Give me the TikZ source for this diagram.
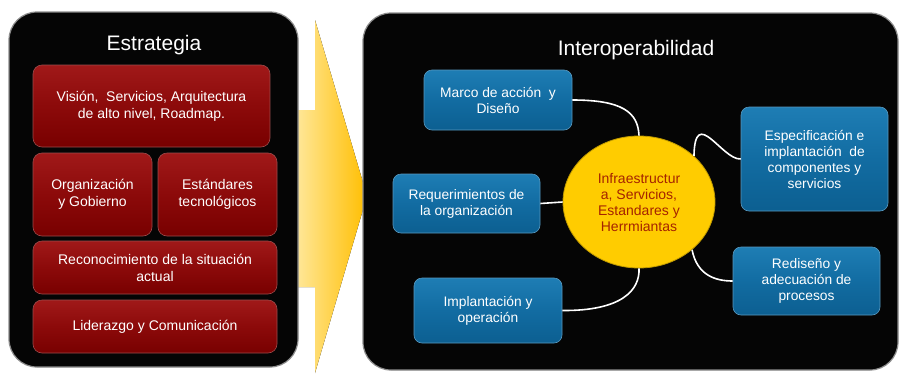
\documentclass[tikz,border=0pt]{standalone}
\usepackage{fontspec}
\setmainfont{Liberation Sans}
\usetikzlibrary{shapes.geometric}
\definecolor{boxred}{RGB}{140,10,10}
\definecolor{boxredtop}{RGB}{160,25,25}
\definecolor{boxredbot}{RGB}{120,0,0}
\definecolor{boxblue}{RGB}{18,108,162}
\definecolor{boxbluetop}{RGB}{30,125,180}
\definecolor{boxbluebot}{RGB}{12,95,145}
\definecolor{arrowlight}{RGB}{255,238,178}
\definecolor{arrowgold}{RGB}{255,190,0}
\definecolor{circyellow}{RGB}{255,204,0}
\definecolor{circtext}{RGB}{165,35,0}
\begin{document}
\begin{tikzpicture}[x=1pt,y=-1pt,
  panel/.style={fill=black!98, draw=black!45, line width=1.2pt, rounded corners=28pt},
  redbox/.style={rectangle, rounded corners=9pt, top color=boxredtop, bottom color=boxredbot, middle color=boxred, draw=red!45!black!70, line width=0.6pt, text=white, align=center, font=\fontsize{14}{17}\selectfont, inner sep=2pt},
  bluebox/.style={rectangle, rounded corners=8pt, top color=boxbluetop, bottom color=boxbluebot, middle color=boxblue, draw=boxblue!70!white, line width=0.6pt, text=white, align=center, font=\fontsize{13.8}{16}\selectfont, inner sep=2pt},
  ptitle/.style={text=white, font=\fontsize{21}{24}\selectfont},
  link/.style={draw=white, line width=1.6pt}
]
\useasboundingbox (0,0) rectangle (903,373);
\fill[white] (0,0) rectangle (903,373);

% big arrow
\fill[left color=arrowlight, right color=arrowgold]
  (285,110) -- (315,110) -- (315,20) -- (367,196) -- (315,373) -- (315,287) -- (285,287) -- cycle;

% panels
\path[panel] (9,12) rectangle (298,367);
\path[panel] (363,13) rectangle (898,370);

\node[ptitle] (t1) at (154,45) {Estrategia};
\node[ptitle] (t2) at (636,50) {Interoperabilidad};

% red boxes
\node[redbox, minimum width=237pt, minimum height=82pt] (vis) at (151.5,106) {Visión,\ \ Servicios, Arquitectura\\de alto nivel, Roadmap.};
\node[redbox, minimum width=119pt, minimum height=83pt] (org) at (92.5,194.5) {Organización\\y Gobierno};
\node[redbox, minimum width=119pt, minimum height=83pt] (est) at (217.5,194.5) {Estándares\\tecnológicos};
\node[redbox, minimum width=244pt, minimum height=53pt] (rec) at (155,267.5) {Reconocimiento de la situación\\actual};
\node[redbox, minimum width=244pt, minimum height=53pt] (lid) at (155,326.5) {Liderazgo y Comunicación};

% center ellipse
\node[ellipse, minimum width=152pt, minimum height=132pt, inner sep=0pt,
  fill=circyellow, draw=circyellow!75!black, line width=0.8pt, text=circtext, align=center,
  font=\fontsize{14}{16}\selectfont] (circ) at (639,202) {Infraestructur\\a, Servicios,\\Estandares y\\Herrmiantas};

% blue boxes
\node[bluebox, minimum width=148pt, minimum height=60pt] (marco) at (498,100) {Marco de acción\ \ y\\Diseño};
\node[bluebox, minimum width=147pt, minimum height=59pt] (req) at (466.5,203.5) {Requerimientos de\\la organización};
\node[bluebox, minimum width=148pt, minimum height=65pt] (impl) at (488,310.5) {Implantación y\\operación};
\node[bluebox, minimum width=147pt, minimum height=104pt] (espec) at (814.5,159) {Especificación e\\implantación\ \ de\\componentes y\\servicios};
\node[bluebox, minimum width=147pt, minimum height=68pt] (redis) at (806.5,281) {Rediseño y\\adecuación de\\procesos};

% connectors
\draw[link] (marco.east) .. controls (622,100) and (638,112) .. (circ.north);
\draw[link] (req.east) -- (circ.west);
\draw[link] (impl.east) .. controls (622,311) and (640,290) .. (circ.south);
\draw[link] (circ.40) .. controls (695,105) and (722,160) .. (espec.west);
\draw[link] (circ.-42) .. controls (697,275) and (715,281) .. (redis.west);
\end{tikzpicture}
\end{document}
